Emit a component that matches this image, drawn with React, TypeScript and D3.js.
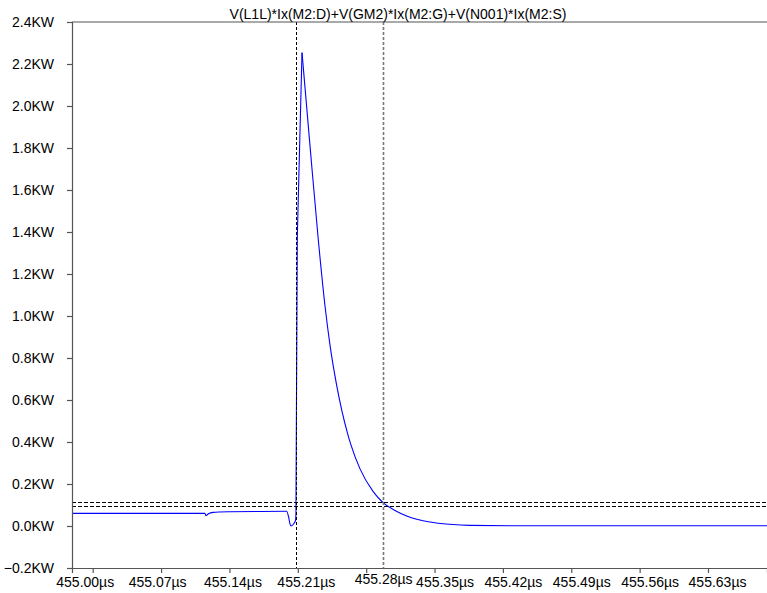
import React, { useEffect, useRef } from "react";
import * as d3 from "d3";

// time in µs
const times = [
  454.9788, 455.05, 455.115, 455.116, 455.1172, 455.119, 455.1232, 455.13, 455.1406, 455.1713,
  455.1985, 455.2005, 455.202, 455.203, 455.2045, 455.206, 455.2076, 455.2081, 455.2086, 455.2095,
  455.2143, 455.2225, 455.231, 455.2378, 455.243, 455.2498, 455.2607, 455.2645, 455.2737,
  455.287, 455.2972, 455.3095, 455.3215, 455.3453, 455.3658, 455.3863, 455.4375, 455.55, 455.6904,
];
// power in KW
const power = [
  0.06, 0.06, 0.06, 0.049, 0.053, 0.06, 0.065, 0.067, 0.068, 0.069,
  0.07, 0.045, 0.01, 0.0, 0.004, 0.012, 0.025, 0.06, 0.55, 1.38,
  2.254, 1.81, 1.362, 1.05, 0.86, 0.67, 0.445, 0.385, 0.272,
  0.165, 0.112, 0.074, 0.048, 0.019, 0.008, 0.003, 0.001, 0.001, 0.001,
];

const yTicks = [-0.2, 0.0, 0.2, 0.4, 0.6, 0.8, 1.0, 1.2, 1.4, 1.6, 1.8, 2.0, 2.2, 2.4];
const xTicks = [455.0, 455.07, 455.14, 455.21, 455.28, 455.35, 455.42, 455.49, 455.56, 455.63];
// horizontal shift of each x tick label as drawn in the original
const xLabelShift = [-8, -4, 3, 8, 17, 10, 10, 10, 10, 9];

const cursorX = [455.2081, 455.2972];
const cursorY = [0.1143, 0.0967];

const title = "V(L1L)*Ix(M2:D)+V(GM2)*Ix(M2:G)+V(N001)*Ix(M2:S)";

const App = () => {
  const svgRef = useRef(null);

  useEffect(() => {
    const width = 767;
    const height = 593;
    const margin = { top: 22, right: 0, bottom: 25, left: 72 };
    const font = "'Liberation Sans', Arial, sans-serif";

    const x = d3.scaleLinear()
      .domain([454.9788, 455.6904])
      .range([margin.left, width - margin.right]);

    const y = d3.scaleLinear()
      .domain([-0.2, 2.4])
      .range([height - margin.bottom, margin.top]);

    const svg = d3.select(svgRef.current)
      .attr("width", width)
      .attr("height", height);

    svg.selectAll("*").remove();

    svg.append("rect")
      .attr("width", width)
      .attr("height", height)
      .attr("fill", "#fff");

    // curve: pointy peak, smooth decay
    const points = power.map((p, i) => [times[i], p]);
    const peak = d3.maxIndex(power);

    const lineRise = d3.line()
      .x(d => x(d[0]))
      .y(d => y(d[1]))
      .curve(d3.curveMonotoneX);

    const lineDecay = d3.line()
      .x(d => x(d[0]))
      .y(d => y(d[1]))
      .curve(d3.curveMonotoneX);

    svg.append("path")
      .datum(points.slice(0, peak - 1))
      .attr("fill", "none")
      .attr("stroke", "#0000ff")
      .attr("stroke-width", 1.1)
      .attr("d", lineRise);

    svg.append("path")
      .datum(points.slice(peak - 2, peak + 1))
      .attr("fill", "none")
      .attr("stroke", "#0000ff")
      .attr("stroke-width", 1.1)
      .attr("d", d3.line().x(d => x(d[0])).y(d => y(d[1])));

    svg.append("path")
      .datum(points.slice(peak))
      .attr("fill", "none")
      .attr("stroke", "#0000ff")
      .attr("stroke-width", 1.1)
      .attr("d", lineDecay);

    // cursors
    svg.append("line")
      .attr("x1", Math.round(x(cursorX[0])) + 0.5).attr("x2", Math.round(x(cursorX[0])) + 0.5)
      .attr("y1", margin.top).attr("y2", height - margin.bottom)
      .attr("stroke", "#000").attr("stroke-width", 1)
      .attr("stroke-dasharray", "3,2");

    svg.append("line")
      .attr("x1", Math.round(x(cursorX[1])) + 0.5).attr("x2", Math.round(x(cursorX[1])) + 0.5)
      .attr("y1", margin.top).attr("y2", height - margin.bottom)
      .attr("stroke", "#777").attr("stroke-width", 1.6)
      .attr("stroke-dasharray", "3,2");

    cursorY.forEach(v => {
      svg.append("line")
        .attr("x1", margin.left).attr("x2", width)
        .attr("y1", Math.round(y(v)) + 0.5).attr("y2", Math.round(y(v)) + 0.5)
        .attr("stroke", "#000").attr("stroke-width", 1)
        .attr("stroke-dasharray", "4,2");
    });

    // axes
    const yAxis = svg.append("g")
      .attr("transform", `translate(${margin.left},0)`)
      .call(d3.axisLeft(y).tickValues(yTicks).tickSize(5).tickPadding(13)
        .tickFormat(d => d3.format(".1f")(d) + "KW"));

    const xAxis = svg.append("g")
      .attr("transform", `translate(0,${height - margin.bottom})`)
      .call(d3.axisBottom(x).tickValues(xTicks).tickSize(5).tickPadding(4)
        .tickFormat(d => d3.format(".2f")(d) + "µs"));

    [yAxis, xAxis].forEach(g => {
      g.select(".domain").attr("stroke", "#555").attr("stroke-width", 1.2);
      g.selectAll(".tick line").attr("stroke", "#555").attr("stroke-width", 1.2);
      g.selectAll("text")
        .attr("fill", "#000")
        .style("font-family", font)
        .style("font-size", "14px");
    });

    xAxis.selectAll(".tick text")
      .attr("dx", (d, i) => xLabelShift[i])
      .filter(d => Math.abs(d - 455.28) < 1e-6)
      .attr("transform", "translate(0,-2.5)");

    // top border
    svg.append("line")
      .attr("x1", margin.left).attr("x2", width)
      .attr("y1", margin.top).attr("y2", margin.top)
      .attr("stroke", "#555").attr("stroke-width", 1.2);

    svg.append("text")
      .attr("x", 398)
      .attr("y", 19)
      .attr("text-anchor", "middle")
      .style("font-family", font)
      .style("font-size", "14px")
      .attr("fill", "#000")
      .text(title);
  }, []);

  return <svg ref={svgRef} style={{ position: "absolute", left: 0, top: 0 }}></svg>;
};

export default App;
